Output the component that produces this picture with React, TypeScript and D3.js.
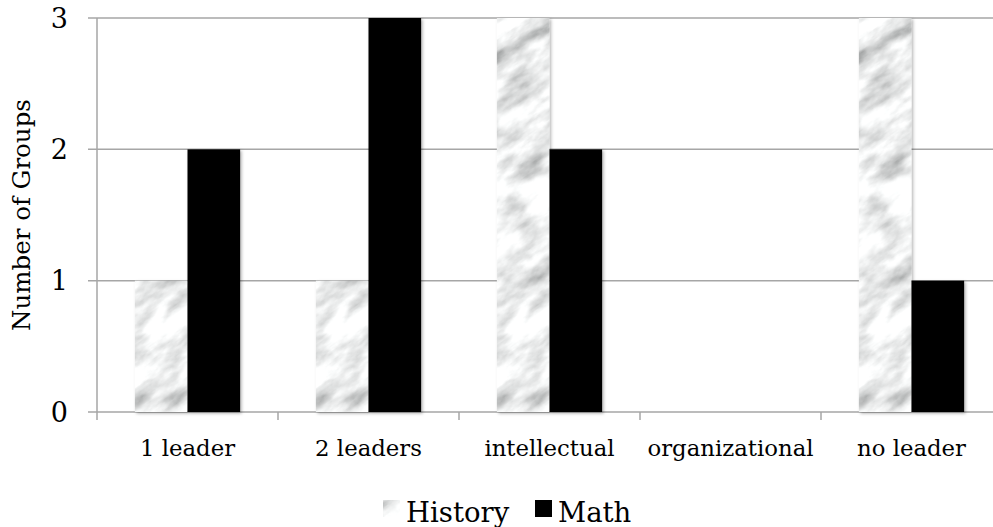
import React from 'react';
import * as d3 from 'd3';

const categories = ['1 leader', '2 leaders', 'intellectual', 'organizational', 'no leader'];
const historyValues = [1, 1, 3, 0, 3];
const mathValues = [2, 3, 2, 0, 1];
const yTicks = [0, 1, 2, 3];
const seriesNames = ['History', 'Math'];

const W = 993;
const H = 527;
const FONT = '"DejaVu Serif", "Liberation Serif", serif';

export default function App() {
  const left = 97;
  const right = 1002; // plot runs past the visible edge, like the source
  const top = 18;
  const bottom = 412;

  const x0 = d3.scaleBand<string>().domain(categories).range([left, right]).padding(0);
  const x1 = d3.scaleBand<string>().domain(seriesNames).range([0, x0.bandwidth()]).paddingInner(0).paddingOuter(0.72);
  const y = d3.scaleLinear().domain([0, 3]).range([bottom, top]);

  const rows = categories.map((c, i) => ({ cat: c, History: historyValues[i], Math: mathValues[i] }));

  return (
    <svg width={W} height={H} style={{ position: 'absolute', left: 0, top: 0, background: '#fff' }} fontFamily={FONT}>
      <defs>
        <filter id="marbleNoise" x="0" y="0" width="100%" height="100%">
          <feTurbulence type="fractalNoise" baseFrequency="0.022 0.05" numOctaves={5} seed={11} result="noise" />
          <feColorMatrix in="noise" type="matrix"
            values="-1.35 0 0 0 1.53  -1.35 0 0 0 1.54  -1.35 0 0 0 1.54  0 0 0 0 1" />
          <feGaussianBlur stdDeviation={0.6} />
        </filter>
        {/* one big tile so no seams show inside the bars */}
        <pattern id="marble" patternUnits="userSpaceOnUse" x={-1200} y={-1200} width={2600} height={2600} patternTransform="rotate(-35)">
          <rect x={0} y={0} width={2600} height={2600} fill="#eee" filter="url(#marbleNoise)" />
        </pattern>
        <filter id="shadow" x="-20%" y="-5%" width="140%" height="110%">
          <feDropShadow dx={1.5} dy={1.5} stdDeviation={1.5} floodColor="#000" floodOpacity={0.3} />
        </filter>
      </defs>

      {/* gridlines */}
      {yTicks.map(t => (
        <line key={t} x1={left - 9} x2={W} y1={y(t)} y2={y(t)} stroke="#a6a6a6" strokeWidth={1.5} />
      ))}
      {/* y axis */}
      <line x1={left} x2={left} y1={top} y2={bottom + 8} stroke="#a6a6a6" strokeWidth={1.5} />
      {yTicks.map(t => (
        <text key={t} x={68} y={y(t)} dy="0.36em" textAnchor="end" fontSize={27}>{t}</text>
      ))}
      <text transform={`translate(30,${(top + bottom) / 2}) rotate(-90)`} textAnchor="middle" fontSize={24.5}>Number of Groups</text>

      {/* x ticks */}
      {categories.map(c => (
        <line key={c} x1={(x0(c) as number) + x0.bandwidth()} x2={(x0(c) as number) + x0.bandwidth()} y1={bottom} y2={bottom + 8} stroke="#a6a6a6" strokeWidth={1.5} />
      ))}

      {/* bars */}
      <g filter="url(#shadow)">
        {rows.map(r => (
          <g key={r.cat} transform={`translate(${x0(r.cat)},0)`}>
            {seriesNames.map(s => {
              const v = (r as any)[s] as number;
              if (v === 0) return null;
              return (
                <rect key={s} x={x1(s)} y={y(v)} width={x1.bandwidth()} height={bottom - y(v)}
                  fill={s === 'History' ? 'url(#marble)' : '#000'} />
              );
            })}
          </g>
        ))}
      </g>

      {/* category labels */}
      {categories.map(c => (
        <text key={c} x={(x0(c) as number) + x0.bandwidth() / 2} y={456} textAnchor="middle" fontSize={22.8}>{c}</text>
      ))}

      {/* legend */}
      <rect x={383} y={500} width={17} height={17} fill="url(#marble)" />
      <text x={406} y={522} fontSize={27.5}>History</text>
      <rect x={535} y={500} width={17} height={17} fill="#000" />
      <text x={558} y={522} fontSize={27.5}>Math</text>
    </svg>
  );
}
